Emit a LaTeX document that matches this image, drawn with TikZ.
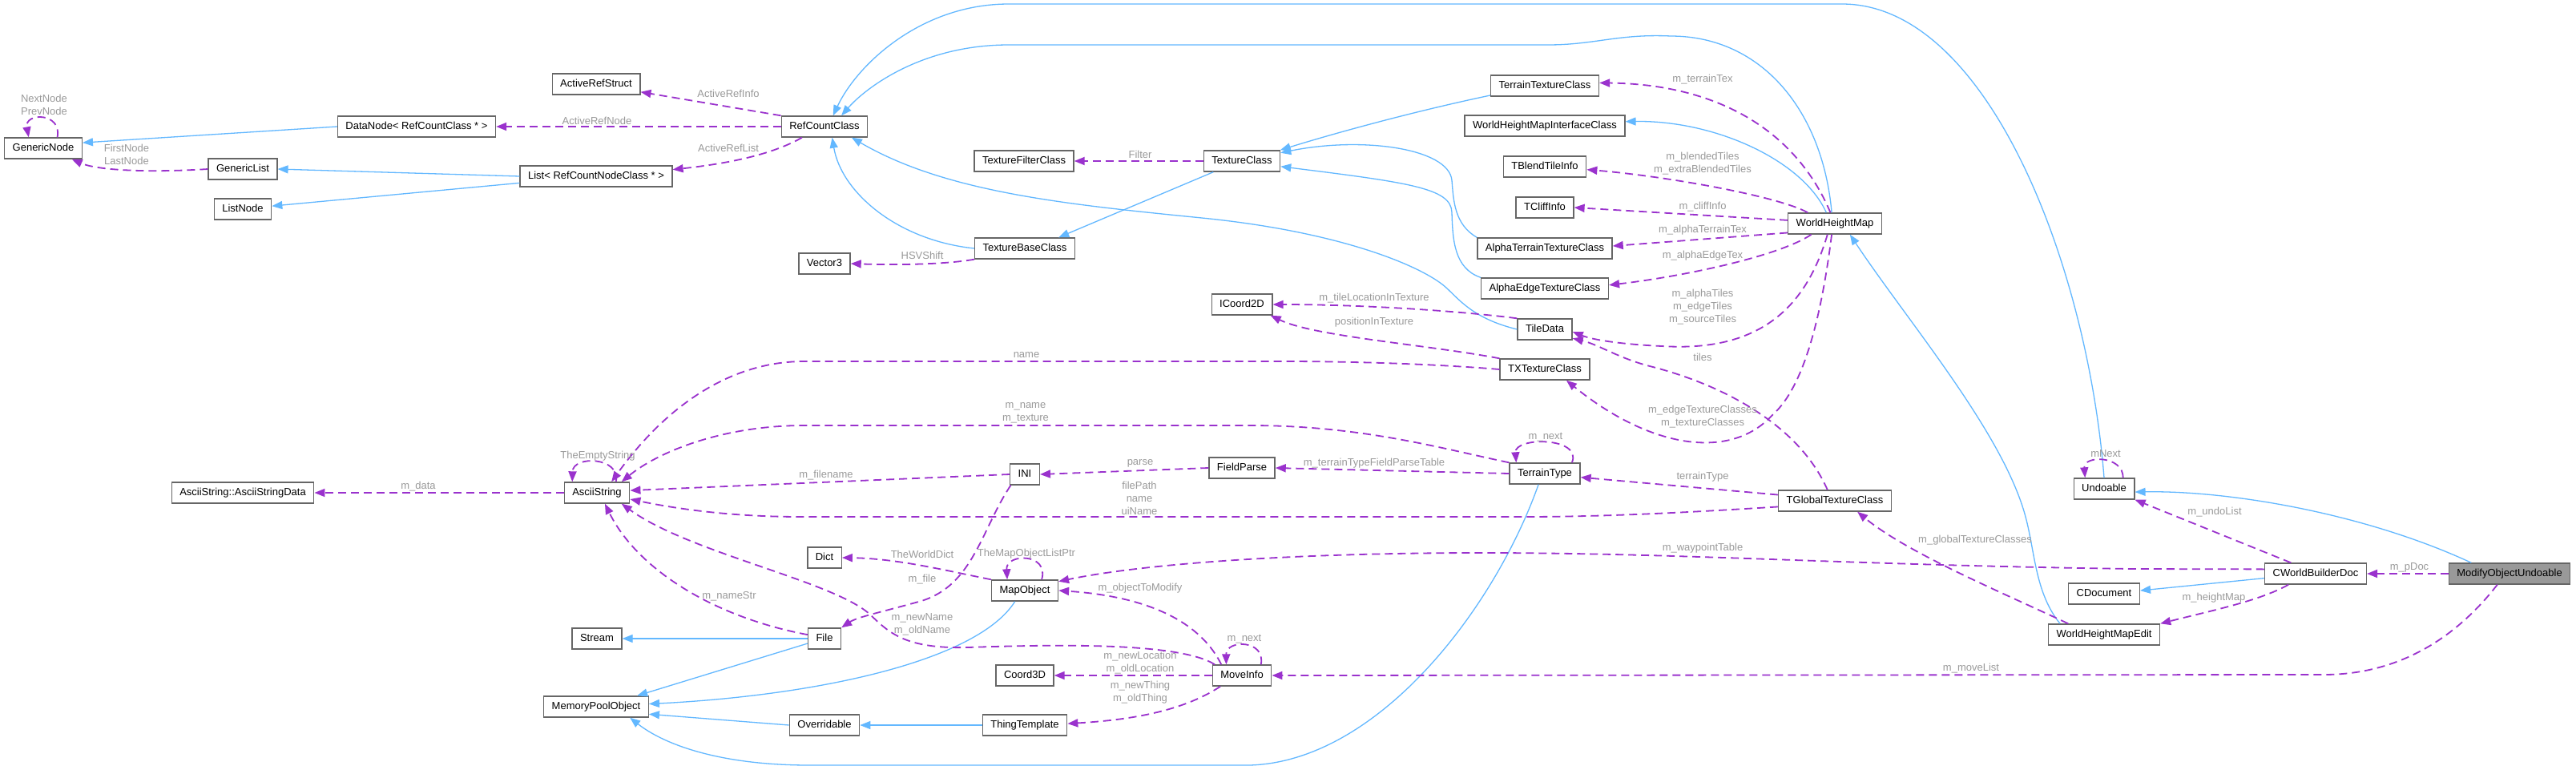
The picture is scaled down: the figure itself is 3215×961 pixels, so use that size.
\documentclass[tikz,border=0pt]{standalone}
\usepackage{fontspec}
\setmainfont{Liberation Sans}
\usepackage{tikz}
\usepackage{xcolor}
\usetikzlibrary{arrows.meta}

\definecolor{inhblue}{HTML}{63B8FF}
\definecolor{usepurple}{HTML}{9A32CD}
\definecolor{lblgray}{HTML}{9A9A9A}
\definecolor{boxgray}{HTML}{666666}
\definecolor{selgray}{HTML}{999999}

\begin{document}
\begin{tikzpicture}[
            x=1pt, y=-1pt,
            font=\fontsize{13}{16}\selectfont,
            cls/.style={draw=boxgray, line width=1.4pt, fill=white, inner xsep=10pt, inner ysep=0pt,
                        minimum height=26pt, text height=9.6pt, text depth=2.8pt},
            sel/.style={cls, fill=selgray},
            lbl/.style={text=lblgray, inner sep=0pt, align=center},
            inherit/.style={draw=inhblue, line width=1.3pt, -{Triangle[length=13pt,width=10pt]}},
            usage/.style={draw=usepurple, line width=1.8pt, dash pattern=on 10pt off 6pt,
                          -{Triangle[length=13pt,width=10pt]}}
          ]
            \fill[white] (0,0) rectangle (3215,961);
            \useasboundingbox (0,0) rectangle (3215,961);

            \node[cls] (gnode) at (54,185) {GenericNode};
            \node[cls] (dnode) at (520,158) {DataNode< RefCountClass * >};
            \node[cls] (glist) at (303,211) {GenericList};
            \node[cls] (lnode) at (303,261) {ListNode};
            \node[cls] (rlist) at (744,220) {List< RefCountNodeClass * >};
            \node[cls] (arstruct) at (744,105) {ActiveRefStruct};
            \node[cls] (refcount) at (1029,158) {RefCountClass};
            \node[cls] (vec3) at (1029,329) {Vector3};
            \node[cls] (texfilter) at (1278,201) {TextureFilterClass};
            \node[cls] (texbase) at (1279,310) {TextureBaseClass};
            \node[cls] (texclass) at (1550,201) {TextureClass};
            \node[cls] (icoord) at (1550,380) {ICoord2D};
            \node[cls] (terraintex) at (1928,107) {TerrainTextureClass};
            \node[cls] (whmif) at (1928,157) {WorldHeightMapInterfaceClass};
            \node[cls] (blend) at (1928,208) {TBlendTileInfo};
            \node[cls] (cliff) at (1928,259) {TCliffInfo};
            \node[cls] (alphaterrain) at (1928,310) {AlphaTerrainTextureClass};
            \node[cls] (alphaedge) at (1928,360) {AlphaEdgeTextureClass};
            \node[cls] (tiledata) at (1928,411) {TileData};
            \node[cls] (txtex) at (1928,461) {TXTextureClass};
            \node[cls] (whm) at (2290,279) {WorldHeightMap};
            \node[cls] (strdata) at (303,615) {AsciiString::AsciiStringData};
            \node[cls] (astring) at (745,615) {AsciiString};
            \node[cls] (stream) at (745,797) {Stream};
            \node[cls] (mpool) at (744,882) {MemoryPoolObject};
            \node[cls] (dict) at (1029,696) {Dict};
            \node[cls] (file) at (1029,797) {File};
            \node[cls] (overr) at (1029,905) {Overridable};
            \node[cls] (ini) at (1279,592) {INI};
            \node[cls] (mapobj) at (1279,737) {MapObject};
            \node[cls] (coord3d) at (1279,843) {Coord3D};
            \node[cls] (thing) at (1279,905) {ThingTemplate};
            \node[cls] (fparse) at (1550,584) {FieldParse};
            \node[cls] (moveinfo) at (1550,843) {MoveInfo};
            \node[cls] (ttype) at (1928,591) {TerrainType};
            \node[cls] (tglobal) at (2290,625) {TGlobalTextureClass};
            \node[cls] (undo) at (2626,610) {Undoable};
            \node[cls] (cdoc) at (2626,741) {CDocument};
            \node[cls] (whmedit) at (2626,792) {WorldHeightMapEdit};
            \node[cls] (wbdoc) at (2890,716) {CWorldBuilderDoc};
            \node[sel] (modobj) at (3132,716) {ModifyObjectUndoable};

            \draw[inherit] (dnode.west) -- (gnode.8);
            \draw[inherit] (rlist.west) -- (glist.east);
            \draw[inherit] (rlist.185) -- (lnode.6);
            \draw[inherit] (texbase.west) .. controls (1120,300) and (1050,240) .. (refcount.-55);
            \draw[inherit] (texclass.201) -- (texbase.18);
            \draw[inherit] (terraintex.190) .. controls (1760,140) and (1660,168) .. (texclass.16);
            \draw[inherit] (alphaterrain.north west) .. controls (1815,280) and (1814,250) .. (1812,225)
                           .. controls (1808,185) and (1700,170) .. (texclass.12);
            \draw[inherit] (alphaedge.north west) .. controls (1815,335) and (1813,300) .. (1812,265)
                           .. controls (1811,235) and (1760,228) .. (texclass.-8);
            \draw[inherit] (tiledata.west) .. controls (1840,398) and (1822,375) .. (1806,360)
                           .. controls (1780,335) and (1680,290) .. (1500,272)
                           .. controls (1330,255) and (1180,240) .. (refcount.-22);
            \draw[inherit] (whm.128) .. controls (2250,200) and (2140,150) .. (whmif.3);
            \draw[inherit] (whm.106) .. controls (2275,140) and (2200,45) .. (2085,45)
                           .. controls (2020,42) and (1990,56) .. (1932,56) -- (1259,56)
                           .. controls (1150,56) and (1080,110) .. (refcount.33);
            \draw[inherit] (undo.north) .. controls (2605,330) and (2480,5) .. (2299,5) -- (1259,5)
                           .. controls (1150,5) and (1070,80) .. (refcount.52);
            \draw[inherit] (whmedit.166) .. controls (2540,740) and (2540,690) .. (2528,645)
                           .. controls (2500,540) and (2380,400) .. (whm.-36);
            \draw[inherit] (modobj.164) .. controls (2950,640) and (2780,612) .. (undo.-6);
            \draw[inherit] (wbdoc.185) -- (cdoc.5);
            \draw[inherit] (thing.west) -- (overr.east);
            \draw[inherit] (overr.west) -- (mpool.-8);
            \draw[inherit] (mapobj.228) .. controls (1220,825) and (1020,868) .. (mpool.3);
            \draw[inherit] (file.west) -- (stream.east);
            \draw[inherit] (file.196) -- (mpool.15);
            \draw[inherit] (ttype.240) .. controls (1865,760) and (1720,950) .. (1560,955) -- (1010,955)
                           .. controls (900,955) and (830,930) .. (mpool.-18);

            \draw[usage] (glist.west) .. controls (180,216) and (120,212) .. (gnode.-21);
            \draw[usage] (gnode.38) .. controls (78,140) and (30,140) .. (gnode.143);
            \draw[usage] (refcount.north west) -- (arstruct.-10);
            \draw[usage] (refcount.west) -- (dnode.east);
            \draw[usage] (refcount.206) .. controls (960,195) and (900,205) .. (rlist.5);
            \draw[usage] (texclass.west) -- (texfilter.east);
            \draw[usage] (texbase.south west) .. controls (1180,330) and (1120,331) .. (vec3.east);
            \draw[usage] (whm.112) .. controls (2240,160) and (2140,105) .. (terraintex.3);
            \draw[usage] (whm.158) .. controls (2220,245) and (2080,220) .. (blend.-4);
            \draw[usage] (whm.176) -- (cliff.east);
            \draw[usage] (whm.191) -- (alphaterrain.2);
            \draw[usage] (whm.205) .. controls (2220,320) and (2100,345) .. (alphaedge.3);
            \draw[usage] (whm.236) .. controls (2255,380) and (2200,440) .. (2074,432)
                         .. controls (2030,430) and (1990,425) .. (tiledata.-5);
            \draw[usage] (whm.254) .. controls (2275,380) and (2255,480) .. (2212,518)
                         .. controls (2160,575) and (2060,560) .. (txtex.-27);
            \draw[usage] (tglobal.124) .. controls (2245,530) and (2150,480) .. (2059,457)
                         .. controls (2020,447) and (1995,430) .. (tiledata.-18);
            \draw[usage] (tiledata.north west) .. controls (1820,388) and (1700,380) .. (icoord.east);
            \draw[usage] (txtex.north west) .. controls (1780,430) and (1640,420) .. (icoord.-21);
            \draw[usage] (txtex.west) .. controls (1800,455) and (1700,451) .. (1600,451) -- (1004,451)
                         .. controls (880,451) and (800,550) .. (astring.37);
            \draw[usage] (ttype.north west) .. controls (1800,560) and (1700,531) .. (1560,531) -- (1004,531)
                         .. controls (900,531) and (820,565) .. (astring.24);
            \draw[usage] (ttype.west) -- (fparse.east);
            \draw[usage] (ttype.22) .. controls (1975,545) and (1890,545) .. (ttype.159);
            \draw[usage] (fparse.west) -- (ini.east);
            \draw[usage] (ini.west) -- (astring.4);
            \draw[usage] (tglobal.186) .. controls (2100,640) and (2000,645) .. (1900,645) -- (1000,645)
                         .. controls (900,645) and (830,632) .. (astring.-11);
            \draw[usage] (mapobj.north west) .. controls (1180,712) and (1120,697) .. (dict.east);
            \draw[usage] (mapobj.33) .. controls (1310,690) and (1255,690) .. (mapobj.148);
            \draw[usage] (ini.218) .. controls (1225,660) and (1215,730) .. (1150,750)
                         .. controls (1100,764) and (1070,770) .. (file.north east);
            \draw[usage] (file.167) .. controls (890,770) and (795,710) .. (astring.-54);
            \draw[usage] (moveinfo.158) .. controls (1470,800) and (1300,805) .. (1208,808)
                         .. controls (1130,810) and (1110,790) .. (1086,767)
                         .. controls (1040,725) and (860,690) .. (astring.-24);
            \draw[usage] (moveinfo.152) .. controls (1500,780) and (1440,745) .. (mapobj.east);
            \draw[usage] (moveinfo.30) .. controls (1580,798) and (1530,798) .. (moveinfo.145);
            \draw[usage] (moveinfo.west) -- (coord3d.east);
            \draw[usage] (moveinfo.207) .. controls (1480,885) and (1420,898) .. (thing.2);
            \draw[usage] (wbdoc.175) -- (2660,710) .. controls (2300,705) and (2100,690) .. (1850,690)
                         .. controls (1600,690) and (1420,705) .. (mapobj.15);
            \draw[usage] (whmedit.163) .. controls (2500,740) and (2380,690) .. (tglobal.-26);
            \draw[usage] (tglobal.174) -- (ttype.-6);
            \draw[usage] (modobj.west) -- (wbdoc.east);
            \draw[usage] (wbdoc.156) -- (undo.south east);
            \draw[usage] (wbdoc.202) .. controls (2820,750) and (2760,762) .. (whmedit.north east);
            \draw[usage] (modobj.222) .. controls (3070,790) and (3000,842) .. (2900,842) -- (moveinfo.east);
            \draw[usage] (astring.west) -- (strdata.east);
            \draw[usage] (astring.30) .. controls (775,570) and (715,568) .. (astring.156);
            \draw[usage] (undo.30) .. controls (2650,568) and (2600,568) .. (undo.150);

            \node[lbl] (l-nextnode) at (55,131) {NextNode\\PrevNode};
            \node[lbl] (l-firstnode) at (158,193) {FirstNode\\LastNode};
            \node[lbl] (l-refnode) at (745,151) {ActiveRefNode};
            \node[lbl] (l-refinfo) at (909,117) {ActiveRefInfo};
            \node[lbl] (l-reflist) at (909,185) {ActiveRefList};
            \node[lbl] (l-filter) at (1423,193) {Filter};
            \node[lbl] (l-hsv) at (1151,319) {HSVShift};
            \node[lbl] (l-txname) at (1281,443) {name};
            \node[lbl] (l-terraintex) at (2125,99) {m\_terrainTex};
            \node[lbl] (l-blended) at (2125,204) {m\_blendedTiles\\m\_extraBlendedTiles};
            \node[lbl] (l-cliff) at (2125,258) {m\_cliffInfo};
            \node[lbl] (l-alphaterrain) at (2125,287) {m\_alphaTerrainTex};
            \node[lbl] (l-alphaedge) at (2125,319) {m\_alphaEdgeTex};
            \node[lbl] (l-tiles) at (2125,383) {m\_alphaTiles\\m\_edgeTiles\\m\_sourceTiles};
            \node[lbl] (l-gtiles) at (2125,446) {tiles};
            \node[lbl] (l-tileloc) at (1715,372) {m\_tileLocationInTexture};
            \node[lbl] (l-posin) at (1715,402) {positionInTexture};
            \node[lbl] (l-texclasses) at (2125,520) {m\_edgeTextureClasses\\m\_textureClasses};
            \node[lbl] (l-ttnext) at (1929,546) {m\_next};
            \node[lbl] (l-fparsetable) at (1715,578) {m\_terrainTypeFieldParseTable};
            \node[lbl] (l-ttype) at (2125,595) {terrainType};
            \node[lbl] (l-waypoint) at (2125,684) {m\_waypointTable};
            \node[lbl] (l-globaltex) at (2465,674) {m\_globalTextureClasses};
            \node[lbl] (l-mnext) at (2628,566) {mNext};
            \node[lbl] (l-undolist) at (2764,639) {m\_undoList};
            \node[lbl] (l-pdoc) at (3007,708) {m\_pDoc};
            \node[lbl] (l-heightmap) at (2763,746) {m\_heightMap};
            \node[lbl] (l-movelist) at (2460,834) {m\_moveList};
            \node[lbl] (l-nametex) at (1280,515) {m\_name\\m\_texture};
            \node[lbl] (l-parse) at (1423,578) {parse};
            \node[lbl] (l-filename) at (1031,593) {m\_filename};
            \node[lbl] (l-filepath) at (1422,622) {filePath\\name\\uiName};
            \node[lbl] (l-worlddict) at (1151,692) {TheWorldDict};
            \node[lbl] (l-listptr) at (1281,691) {TheMapObjectListPtr};
            \node[lbl] (l-file) at (1151,723) {m\_file};
            \node[lbl] (l-namestr) at (910,744) {m\_nameStr};
            \node[lbl] (l-tomodify) at (1423,734) {m\_objectToModify};
            \node[lbl] (l-newname) at (1151,779) {m\_newName\\m\_oldName};
            \node[lbl] (l-minext) at (1553,798) {m\_next};
            \node[lbl] (l-location) at (1423,827) {m\_newLocation\\m\_oldLocation};
            \node[lbl] (l-thing) at (1423,864) {m\_newThing\\m\_oldThing};
            \node[lbl] (l-empty) at (746,569) {TheEmptyString};
            \node[lbl] (l-data) at (522,607) {m\_data};
          \end{tikzpicture}
\end{document}
